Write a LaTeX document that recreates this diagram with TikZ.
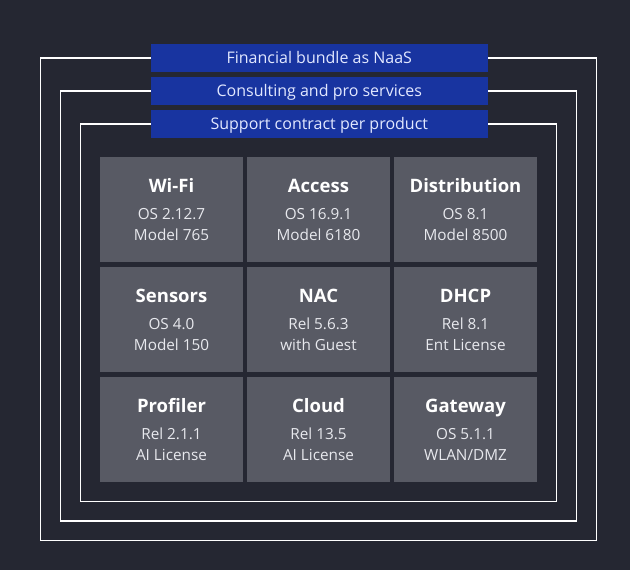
\documentclass[tikz,border=0pt]{standalone}
\usepackage{fontspec}
\setmainfont{Open Sans}
\usetikzlibrary{positioning}
\definecolor{bgdark}{RGB}{37,39,50}
\definecolor{bandblue}{RGB}{24,52,160}
\definecolor{cellgrey}{RGB}{88,90,100}
\definecolor{bandtext}{RGB}{226,232,255}
\definecolor{celltext}{RGB}{232,233,238}
\newcommand\celltitle[1]{{\fontsize{18.5}{18}\selectfont\bfseries\color{white}#1}}

\begin{document}
\begin{tikzpicture}[x=1pt,y=-1pt,
  band/.style={
    fill=bandblue, minimum width=336.7pt, minimum height=27.5pt,
    inner sep=0pt, text height=11.4pt, text depth=0pt,
    text=bandtext, font=\fontsize{16}{16}\selectfont
  },
  frame/.style={draw=white, line width=1.3pt},
  cell/.style={
    fill=cellgrey, minimum width=143pt, minimum height=105pt,
    inner sep=0pt, align=center, text=celltext,
    font=\fontsize{15.3}{21}\selectfont
  },
]
\fill[bgdark] (0,0) rectangle (630,570);

% service layers
\node[band] (fin)  at (319.3,57.9)  {Financial bundle as NaaS};
\node[band] (cons) at (319.3,90.9)  {Consulting and pro services};
\node[band] (supp) at (319.3,124.0) {Support contract per product};

\coordinate (fin sw)  at (40.5,540.5);
\coordinate (fin se)  at (596.5,540.5);
\coordinate (cons sw) at (60.7,521.0);
\coordinate (cons se) at (576.7,521.0);
\coordinate (supp sw) at (80.7,501.3);
\coordinate (supp se) at (556.7,501.3);

\draw[frame] (fin.west)  -| (fin sw)  -- (fin se)  |- (fin.east);
\draw[frame] (cons.west) -| (cons sw) -- (cons se) |- (cons.east);
\draw[frame] (supp.west) -| (supp sw) -- (supp se) |- (supp.east);

% products
\node[cell] (wifi) at (171.5,209.5) {\celltitle{Wi-Fi}\\[6pt]OS 2.12.7\\Model 765};
\node[cell] (acc)  at (318.5,209.5) {\celltitle{Access}\\[6pt]OS 16.9.1\\Model 6180};
\node[cell] (dist) at (465.5,209.5) {\celltitle{Distribution}\\[6pt]OS 8.1\\Model 8500};

\node[cell] (sens) at (171.5,319.5) {\celltitle{Sensors}\\[6pt]OS 4.0\\Model 150};
\node[cell] (nac)  at (318.5,319.5) {\celltitle{NAC}\\[6pt]Rel 5.6.3\\with Guest};
\node[cell] (dhcp) at (465.5,319.5) {\celltitle{DHCP}\\[6pt]Rel 8.1\\Ent License};

\node[cell] (prof) at (171.5,429.5) {\celltitle{Profiler}\\[6pt]Rel 2.1.1\\AI License};
\node[cell] (cld)  at (318.5,429.5) {\celltitle{Cloud}\\[6pt]Rel 13.5\\AI License};
\node[cell] (gate) at (465.5,429.5) {\celltitle{Gateway}\\[6pt]OS 5.1.1\\WLAN/DMZ};

\end{tikzpicture}
\end{document}
